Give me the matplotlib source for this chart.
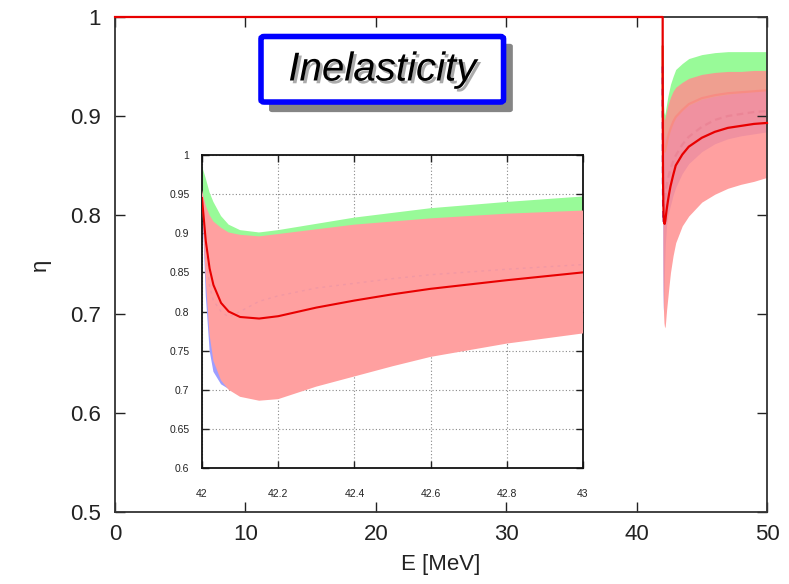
import matplotlib
matplotlib.use('Agg')
import matplotlib.pyplot as plt
import matplotlib.patheffects as pe
from matplotlib.patches import FancyBboxPatch

plt.rcParams['font.family'] = ['Liberation Sans', 'DejaVu Sans']

# ---------------- data ----------------
E_below = [0.0, 42.0]
eta_below = [1.0, 1.0]

E = [42.00, 42.01, 42.02, 42.03, 42.05, 42.07, 42.10, 42.15, 42.20, 42.30,
     42.40, 42.50, 42.60, 42.80, 43.00, 43.50, 44.00, 45.00, 46.00, 47.00,
     48.00, 49.00, 50.00]

red_mid = [0.945, 0.890, 0.855, 0.834, 0.811, 0.800, 0.793, 0.791, 0.794, 0.805,
           0.814, 0.822, 0.829, 0.840, 0.850, 0.861, 0.869, 0.878, 0.884, 0.888,
           0.890, 0.892, 0.893]
red_hi = [0.955, 0.935, 0.923, 0.915, 0.907, 0.901, 0.898, 0.896, 0.899, 0.905,
          0.911, 0.915, 0.919, 0.925, 0.929, 0.934, 0.938, 0.942, 0.944, 0.945,
          0.945, 0.946, 0.946]
red_lo = [0.945, 0.840, 0.770, 0.737, 0.712, 0.700, 0.691, 0.686, 0.688, 0.704,
          0.717, 0.730, 0.742, 0.759, 0.772, 0.789, 0.799, 0.813, 0.821, 0.827,
          0.831, 0.834, 0.838]

green_hi = [0.986, 0.970, 0.952, 0.940, 0.922, 0.911, 0.904, 0.901, 0.904, 0.912,
            0.920, 0.926, 0.932, 0.940, 0.947, 0.953, 0.958, 0.962, 0.964, 0.965,
            0.965, 0.965, 0.965]
green_mid = [0.970, 0.930, 0.910, 0.895, 0.880, 0.872, 0.866, 0.864, 0.866, 0.872,
             0.878, 0.883, 0.887, 0.894, 0.899, 0.906, 0.912, 0.918, 0.921, 0.923,
             0.924, 0.925, 0.926]
green_lo = [0.952, 0.890, 0.868, 0.852, 0.838, 0.832, 0.827, 0.826, 0.827, 0.832,
            0.836, 0.840, 0.842, 0.848, 0.851, 0.859, 0.866, 0.874, 0.878, 0.881,
            0.883, 0.885, 0.887]

blue_hi = [0.955, 0.930, 0.915, 0.905, 0.893, 0.885, 0.880, 0.877, 0.878, 0.882,
           0.886, 0.889, 0.892, 0.897, 0.900, 0.906, 0.911, 0.917, 0.920, 0.922,
           0.924, 0.925, 0.926]
blue_mid = [0.950, 0.875, 0.832, 0.814, 0.800, 0.793, 0.800, 0.813, 0.820, 0.830,
            0.836, 0.842, 0.847, 0.854, 0.860, 0.871, 0.879, 0.889, 0.896, 0.900,
            0.902, 0.904, 0.905]
blue_lo = [0.945, 0.820, 0.750, 0.723, 0.707, 0.701, 0.720, 0.750, 0.770, 0.790,
           0.800, 0.805, 0.810, 0.820, 0.828, 0.842, 0.852, 0.864, 0.872, 0.877,
           0.880, 0.882, 0.884]

main_xticks = [0, 10, 20, 30, 40, 50]
main_xlabels = ['0', '10', '20', '30', '40', '50']
main_yticks = [0.5, 0.6, 0.7, 0.8, 0.9, 1.0]
main_ylabels = ['0.5', '0.6', '0.7', '0.8', '0.9', '1']

ins_xticks = [42.0, 42.2, 42.4, 42.6, 42.8, 43.0]
ins_xlabels = ['42', '42.2', '42.4', '42.6', '42.8', '43']
ins_yticks = [0.6, 0.65, 0.7, 0.75, 0.8, 0.85, 0.9, 0.95, 1.0]
ins_ylabels = ['0.6', '0.65', '0.7', '0.75', '0.8', '0.85', '0.9', '0.95', '1']

GREEN = '#98fa98'
BLUE = '#9d9dff'
RED_FILL = '#ff8f8f'
RED_LINE = '#e80000'

# ---------------- figure ----------------
fig = plt.figure(figsize=(7.89, 5.84), dpi=100)
ax = fig.add_axes([0.1458, 0.1233, 0.8263, 0.8476])

ax.fill_between(E, green_lo, green_hi, color=GREEN, lw=0, zorder=1.0)
ax.fill_between(E, blue_lo, blue_hi, color=BLUE, lw=0, zorder=1.1)
ax.plot(E, green_mid, color='#d08040', lw=1.6, zorder=1.2)
ax.plot(E, blue_mid, color='#8050c0', lw=1.6, ls=(0, (3, 2)), zorder=1.2)
ax.fill_between(E, red_lo, red_hi, color=RED_FILL, alpha=0.85, lw=0, zorder=1.3)
ax.plot(E_below + E, eta_below + red_mid, color=RED_LINE, lw=1.6, clip_on=False, zorder=5)

ax.set_xlim(0, 50)
ax.set_ylim(0.5, 1.0)
ax.set_xticks(main_xticks)
ax.set_xticklabels(main_xlabels)
ax.set_yticks(main_yticks)
ax.set_yticklabels(main_ylabels)
ax.tick_params(direction='in', top=True, right=True, length=7, width=1.0,
               labelsize=16, colors='#222222')
ax.tick_params(axis='x', pad=9)
ax.tick_params(axis='y', pad=10)
for s in ax.spines.values():
    s.set_linewidth(1.3)
    s.set_color('#333333')
ax.set_xlabel('E [MeV]', fontsize=16, labelpad=6, color='#222222')
ax.set_ylabel('η', fontsize=16, labelpad=14, color='#222222')

# ---------------- inset ----------------
axi = fig.add_axes([0.2560, 0.1986, 0.4829, 0.5360])
axi.set_facecolor('white')
axi.fill_between(E, green_lo, green_hi, color=GREEN, lw=0, zorder=2)
axi.fill_between(E, blue_lo, blue_hi, color=BLUE, lw=0, zorder=2.1)
axi.fill_between(E, red_lo, red_hi, color='#ffa0a0', lw=0, zorder=3)
axi.plot(E, blue_mid, color='#9060c0', lw=1.0, ls=(0, (2, 3)), alpha=0.12, zorder=4)
axi.plot(E, red_mid, color=RED_LINE, lw=1.5, zorder=5)
axi.set_xlim(42, 43)
axi.set_ylim(0.6, 1.0)
axi.set_xticks(ins_xticks)
axi.set_xticklabels(ins_xlabels)
axi.set_yticks(ins_yticks)
axi.set_yticklabels(ins_ylabels)
axi.grid(True, color='#888888', ls=(0, (1, 2)), lw=0.8, zorder=1)
axi.tick_params(direction='in', top=True, right=True, length=5, width=1.0,
                labelsize=7.5, colors='#222222')
axi.tick_params(axis='x', pad=15)
axi.tick_params(axis='y', pad=9)
for s in axi.spines.values():
    s.set_linewidth(1.3)
    s.set_color('#111111')

# ---------------- title box ----------------
shadow = FancyBboxPatch((0.341, 0.808), 0.309, 0.117,
                        boxstyle='round,pad=0,rounding_size=0.004',
                        transform=fig.transFigure, facecolor='#858585',
                        edgecolor='none', zorder=10)
fig.add_artist(shadow)
box = FancyBboxPatch((0.3308, 0.8253), 0.3074, 0.1122,
                     boxstyle='round,pad=0,rounding_size=0.004',
                     transform=fig.transFigure, facecolor='white',
                     edgecolor='#0000ff', lw=4.0, zorder=11)
fig.add_artist(box)
fig.text(0.4845, 0.881, 'Inelasticity', fontsize=29, style='italic',
         ha='center', va='center', color='black', zorder=12,
         path_effects=[pe.SimplePatchShadow(offset=(2, -2), shadow_rgbFace='#888888', alpha=0.7),
                       pe.Normal()])

fig.savefig('out.png', dpi=100)
